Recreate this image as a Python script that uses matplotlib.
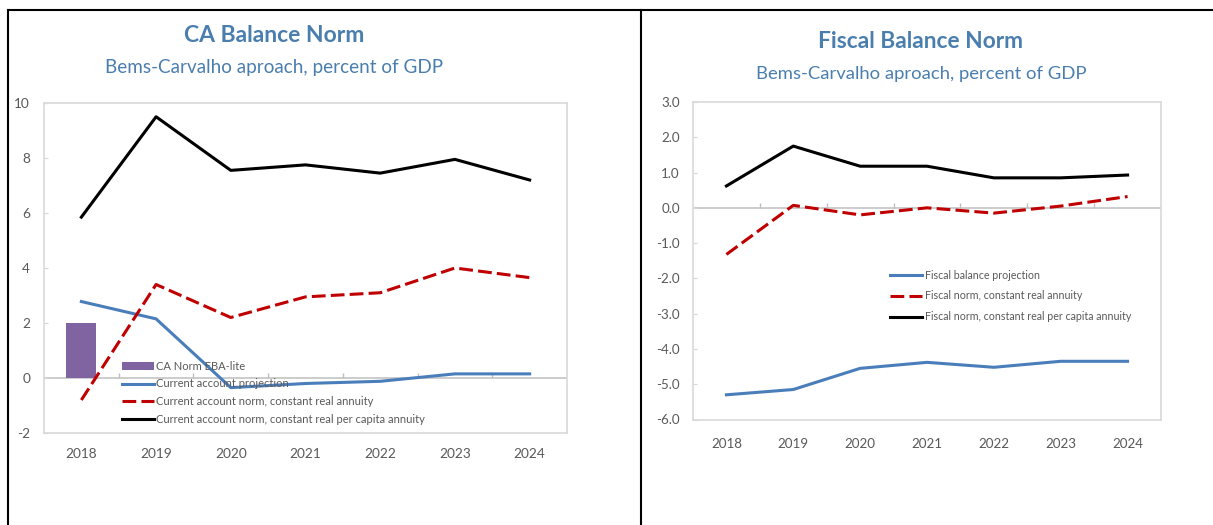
import matplotlib
matplotlib.use("Agg")
import matplotlib.pyplot as plt
from matplotlib.patches import Patch
from matplotlib.lines import Line2D

plt.rcParams['font.family'] = ['Lato', 'DejaVu Sans']

years = ['2018', '2019', '2020', '2021', '2022', '2023', '2024']

# Left panel: CA balance norm
ca_ebalite = [2.0, None, None, None, None, None, None]
ca_projection = [2.78, 2.15, -0.35, -0.2, -0.12, 0.15, 0.15]
ca_norm_real = [-0.8, 3.4, 2.2, 2.95, 3.1, 4.0, 3.65]
ca_norm_percap = [5.85, 9.5, 7.55, 7.75, 7.45, 7.95, 7.2]
ca_yticks = [-2, 0, 2, 4, 6, 8, 10]

# Right panel: Fiscal balance norm
fb_projection = [-5.3, -5.15, -4.55, -4.38, -4.52, -4.35, -4.35]
fb_norm_real = [-1.32, 0.07, -0.2, 0.0, -0.15, 0.05, 0.32]
fb_norm_percap = [0.62, 1.75, 1.18, 1.18, 0.85, 0.85, 0.93]
fb_yticks = [-6, -5, -4, -3, -2, -1, 0, 1, 2, 3]

W, H = 1213, 525
fig = plt.figure(figsize=(W / 100, H / 100), dpi=100)

BLUE = '#4A7EBB'
RED = '#C00000'
PURPLE = '#8064A2'
TITLE = '#4A7EAE'
GRID = '#D9D9D9'
ZERO = '#BFBFBF'
TXT = '#595959'
DASH = (4.5, 1.7)


def px_axes(x0, y0, x1, y1):
    return fig.add_axes([x0 / W, 1 - y1 / H, (x1 - x0) / W, (y1 - y0) / H])


def style(ax, ylim, yticks, fmt, tick_h, xpad, ypad, lsize):
    x = list(range(len(years)))
    ax.set_xlim(-0.5, len(years) - 0.5)
    ax.set_ylim(*ylim)
    ax.set_yticks(yticks)
    ax.set_yticklabels([fmt.format(v) for v in yticks])
    ax.set_xticks(x)
    ax.set_xticklabels(years)
    for s in ax.spines.values():
        s.set_color(GRID)
        s.set_linewidth(1.2)
    ax.tick_params(axis='x', length=0, pad=xpad, labelsize=lsize, colors=TXT)
    ax.tick_params(axis='y', direction='in', length=3, width=0.9, color=GRID,
                   pad=ypad, labelsize=lsize, colors=TXT)
    ax.axhline(0, color=ZERO, lw=1.1, zorder=1)
    bounds = [i + 0.5 for i in range(len(years) - 1)]
    ax.vlines(bounds, 0, tick_h, color=ZERO, lw=1.0, zorder=1)


xs = list(range(len(years)))

# ---------- Left ----------
LX0, LY0, LX1, LY1 = 44, 103, 567, 433
axL = px_axes(LX0, LY0, LX1, LY1)
bar_x = [i for i, v in enumerate(ca_ebalite) if v is not None]
bar_v = [v for v in ca_ebalite if v is not None]
axL.bar(bar_x, bar_v, width=0.4, color=PURPLE, zorder=2)
axL.plot(xs, ca_projection, color=BLUE, lw=2.2, zorder=3)
axL.plot(xs, ca_norm_real, color=RED, lw=2.2, dashes=DASH, zorder=3)
axL.plot(xs, ca_norm_percap, color='black', lw=2.2, zorder=3)
style(axL, (-2, 10), ca_yticks, '{:d}', 0.17, 11, 10, 9.8)

handlesL = [
    Patch(facecolor=PURPLE, edgecolor='none'),
    Line2D([], [], color=BLUE, lw=2.2),
    Line2D([], [], color=RED, lw=2.2, dashes=DASH),
    Line2D([], [], color='black', lw=2.2),
]
labelsL = ['CA Norm EBA-lite', 'Current account projection',
           'Current account norm, constant real annuity',
           'Current account norm, constant real per capita annuity']
fsL = 8.0
legL = axL.legend(handlesL, labelsL, loc='upper left',
                  bbox_to_anchor=((122 - LX0) / (LX1 - LX0),
                                  (LY1 - 360.5) / (LY1 - LY0)),
                  frameon=False, fontsize=fsL, handlelength=2.9,
                  handleheight=0.7, handletextpad=0.18, labelspacing=0.62,
                  borderaxespad=0, borderpad=0)
for t in legL.get_texts():
    t.set_color(TXT)

fig.text(274 / W, 1 - 36 / H, 'CA Balance Norm', ha='center', va='center',
         fontsize=16.5, fontweight='bold', color=TITLE)
fig.text(274 / W, 1 - 67 / H, 'Bems-Carvalho aproach, percent of GDP',
         ha='center', va='center', fontsize=13.6, color=TITLE)

# ---------- Right ----------
RX0, RY0, RX1, RY1 = 693, 102, 1161, 419.5
axR = px_axes(RX0, RY0, RX1, RY1)
axR.plot(xs, fb_projection, color=BLUE, lw=2.2, zorder=3)
axR.plot(xs, fb_norm_real, color=RED, lw=2.2, dashes=DASH, zorder=3)
axR.plot(xs, fb_norm_percap, color='black', lw=2.2, zorder=3)
style(axR, (-6, 3), fb_yticks, '{:.1f}', 0.13, 13, 9.4, 9.6)

handlesR = [
    Line2D([], [], color=BLUE, lw=2.2),
    Line2D([], [], color=RED, lw=2.2, dashes=DASH),
    Line2D([], [], color='black', lw=2.2),
]
labelsR = ['Fiscal balance projection', 'Fiscal norm, constant real annuity',
           'Fiscal norm, constant real per capita annuity']
fsR = 7.7
legR = axR.legend(handlesR, labelsR, loc='upper left',
                  bbox_to_anchor=((890 - RX0) / (RX1 - RX0),
                                  (RY1 - 269.6) / (RY1 - RY0)),
                  frameon=False, fontsize=fsR, handlelength=3.0,
                  handletextpad=0.28, labelspacing=0.92,
                  borderaxespad=0, borderpad=0)
for t in legR.get_texts():
    t.set_color(TXT)

fig.text(920 / W, 1 - 42 / H, 'Fiscal Balance Norm', ha='center', va='center',
         fontsize=16.4, fontweight='bold', color=TITLE)
fig.text(921 / W, 1 - 74 / H, 'Bems-Carvalho aproach, percent of GDP',
         ha='center', va='center', fontsize=13.3, color=TITLE)

# ---------- Frame lines ----------
fig.add_artist(Line2D([8 / W, 1], [1 - 10 / H, 1 - 10 / H], color='black', lw=1.5,
                      transform=fig.transFigure))
fig.add_artist(Line2D([8 / W, 8 / W], [0, 1 - 10 / H], color='black', lw=1.5,
                      transform=fig.transFigure))
fig.add_artist(Line2D([641 / W, 641 / W], [0, 1 - 10 / H], color='black', lw=1.5,
                      transform=fig.transFigure))

fig.savefig('out.png', dpi=100, facecolor='white')
